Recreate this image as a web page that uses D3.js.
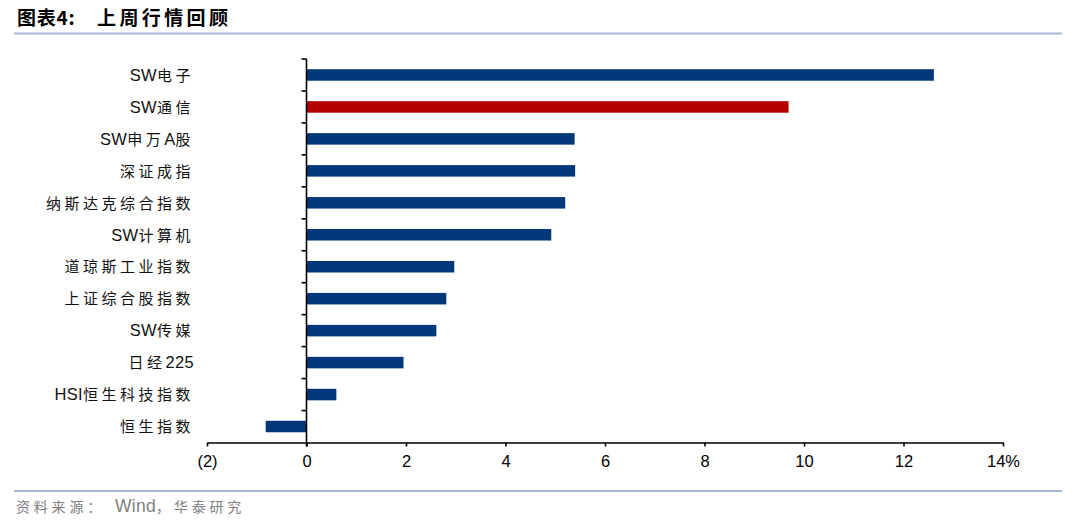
<!DOCTYPE html>
<html><head><meta charset="utf-8">
<script src="https://cdn.jsdelivr.net/npm/d3@7/dist/d3.min.js"></script>
<style>
body{margin:0;background:#fff;}
svg{display:block;}
</style></head>
<body><svg id="c" width="1080" height="525"></svg>
<script>
const categories = ["SW电子","SW通信","SW申万A股","深证成指","纳斯达克综合指数","SW计算机","道琼斯工业指数","上证综合股指数","SW传媒","日经225","HSI恒生科技指数","恒生指数"];
const values = [12.61, 9.69, 5.39, 5.40, 5.20, 4.92, 2.97, 2.81, 2.61, 1.95, 0.60, -0.82];
const highlight = ["SW通信"];
const xTicks = [-2, 0, 2, 4, 6, 8, 10, 12, 14];
const titleLead = "图表4:";
const titleMain = "上周行情回顾";
const source = "资料来源：Wind，华泰研究";

const svg = d3.select("#c");
const latin = "Arial, 'Liberation Sans', sans-serif";
const cjk = "'Noto Sans CJK SC', sans-serif";

// split a string into latin / cjk runs and append tspans
function runs(str) {
  const out = [];
  for (const ch of str) {
    const isC = /[\u3000-\u9fff\uff00-\uffef]/.test(ch);
    if (out.length && out[out.length - 1].c === isC) out[out.length - 1].t += ch;
    else out.push({ t: ch, c: isC });
  }
  return out;
}
function mixed(sel, str, o) {
  sel.selectAll("tspan").data(runs(str)).join("tspan")
    .attr("font-family", d => d.c ? cjk : latin)
    .attr("font-size", d => d.c ? o.cs : o.ls)
    .attr("letter-spacing", d => d.c ? o.sp : 0.3)
    .attr("dx", (d, i) => (i > 0 && !d.c ? (o.gap || 0) : 0))
    .text(d => d.t);
}

// title
svg.append("text").attr("x", 17).attr("y", 25)
  .attr("font-family", cjk).attr("font-size", 19).attr("font-weight", "bold")
  .attr("fill", "#000").attr("letter-spacing", 0.8).text(titleLead);
svg.append("text").attr("x", 97).attr("y", 25)
  .attr("font-family", cjk).attr("font-size", 19).attr("font-weight", "bold")
  .attr("fill", "#000").attr("letter-spacing", 3.4).text(titleMain);
svg.append("line").attr("x1", 14).attr("x2", 1062).attr("y1", 33.5).attr("y2", 33.5)
  .attr("stroke", "#a7b9d3").attr("stroke-width", 2);

const x = d3.scaleLinear().domain([-2, 14]).range([207, 1003]);
const y = d3.scaleBand().domain(categories).range([59, 442.5]).paddingInner(0.64).paddingOuter(0.32);

// bars
svg.append("g").selectAll("rect").data(categories).join("rect")
  .attr("x", (d, i) => x(Math.min(0, values[i])))
  .attr("width", (d, i) => Math.abs(x(values[i]) - x(0)))
  .attr("y", d => y(d))
  .attr("height", y.bandwidth())
  .attr("fill", d => highlight.includes(d) ? "#b70000" : "#00387a");

// x axis
const xAxis = d3.axisBottom(x).tickValues(xTicks).tickSize(4).tickSizeOuter(0)
  .tickFormat(d => d < 0 ? `(${Math.abs(d)})` : (d === 14 ? d + "%" : d));
const gx = svg.append("g").attr("transform", `translate(0,${442.5})`).call(xAxis);
gx.select(".domain").attr("stroke", "#000").attr("stroke-width", 1.6);
gx.selectAll(".tick line").attr("stroke", "#000").attr("stroke-width", 1.6);
gx.selectAll(".tick text").attr("font-family", latin).attr("font-size", 16.5)
  .attr("fill", "#000").attr("y", 13).attr("dy", "0.71em");

// y axis line at 0
const y0 = y.range()[0], y1 = y.range()[1];
svg.append("line").attr("x1", x(0)).attr("x2", x(0)).attr("y1", y0).attr("y2", y1 + 4)
  .attr("stroke", "#000").attr("stroke-width", 1.6);
// y ticks at category boundaries
const bounds = d3.range(categories.length).map(i => y0 + i * y.step());
svg.append("g").selectAll("line").data(bounds).join("line")
  .attr("x1", x(0) - 5).attr("x2", x(0)).attr("y1", d => d).attr("y2", d => d)
  .attr("stroke", "#000").attr("stroke-width", 1.6);

// category labels
svg.append("g").selectAll("text").data(categories).join("text")
  .attr("x", 194).attr("y", d => y(d) + y.bandwidth() / 2)
  .attr("dy", "0.36em").attr("text-anchor", "end").attr("fill", "#111")
  .each(function (d) { mixed(d3.select(this), d, { cs: 15, ls: 16.5, sp: 3.5 }); });

// bottom rule and source
svg.append("line").attr("x1", 14).attr("x2", 1062).attr("y1", 491).attr("y2", 491)
  .attr("stroke", "#a7b9d3").attr("stroke-width", 2);
svg.append("text").attr("x", 16).attr("y", 512).attr("fill", "#808080")
  .call(s => mixed(s, source, { cs: 14, ls: 17.5, sp: 3.8, gap: 10 }));
</script>
</body></html>
